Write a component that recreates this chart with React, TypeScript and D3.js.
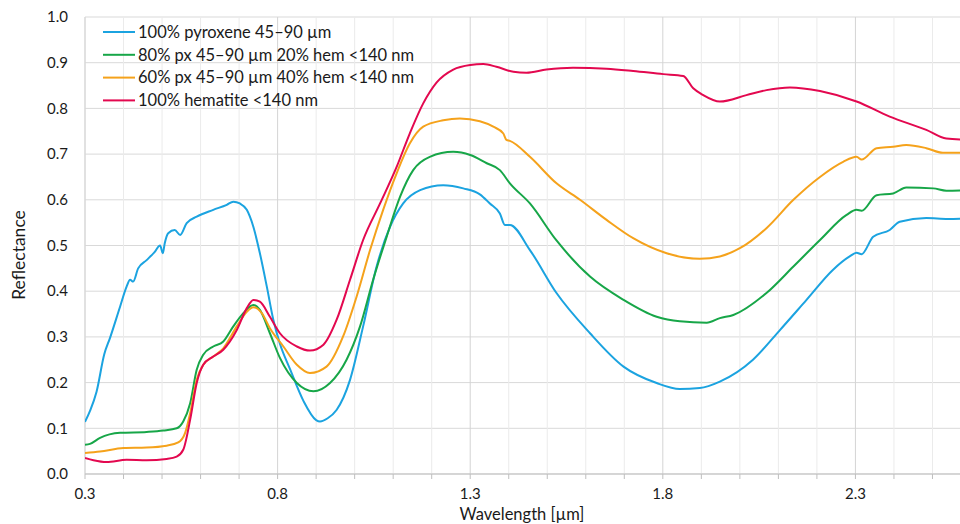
import React from "react";
import * as d3 from "d3";

// ---- data (wavelength µm, reflectance) ----
const pyroxene: [number, number][] = [
  [0.3, 0.114], [0.313, 0.138], [0.33, 0.18], [0.35, 0.262], [0.365, 0.298], [0.391, 0.366],
  [0.408, 0.41], [0.417, 0.425], [0.425, 0.421], [0.438, 0.45], [0.46, 0.468], [0.48, 0.485],
  [0.495, 0.5], [0.502, 0.483], [0.507, 0.505], [0.516, 0.527], [0.533, 0.534], [0.547, 0.523],
  [0.564, 0.549], [0.59, 0.563], [0.633, 0.578], [0.668, 0.589], [0.685, 0.596], [0.702, 0.592],
  [0.72, 0.578], [0.737, 0.541], [0.754, 0.483], [0.772, 0.41], [0.789, 0.337], [0.806, 0.285],
  [0.832, 0.23], [0.867, 0.16], [0.9, 0.118], [0.91, 0.115], [0.93, 0.122], [0.953, 0.14],
  [0.988, 0.206], [1.022, 0.323], [1.057, 0.454], [1.092, 0.541], [1.126, 0.592], [1.17, 0.621],
  [1.23, 0.632], [1.282, 0.625], [1.325, 0.612], [1.351, 0.592], [1.377, 0.57], [1.39, 0.545],
  [1.403, 0.545], [1.455, 0.49], [1.524, 0.396], [1.611, 0.308], [1.698, 0.235], [1.784, 0.199],
  [1.844, 0.186], [1.896, 0.188], [1.948, 0.202], [2.034, 0.25], [2.104, 0.315], [2.173, 0.381],
  [2.242, 0.447], [2.285, 0.476], [2.303, 0.484], [2.316, 0.481], [2.346, 0.519], [2.389, 0.534],
  [2.415, 0.552], [2.484, 0.56], [2.54, 0.558], [2.6, 0.56],
];
const px80hem20: [number, number][] = [
  [0.3, 0.064], [0.313, 0.066], [0.339, 0.079], [0.391, 0.09], [0.46, 0.092], [0.503, 0.095],
  [0.538, 0.1], [0.555, 0.115], [0.573, 0.155], [0.59, 0.228], [0.607, 0.261], [0.633, 0.279],
  [0.659, 0.29], [0.685, 0.323], [0.711, 0.352], [0.737, 0.37], [0.754, 0.359], [0.78, 0.308],
  [0.806, 0.254], [0.85, 0.199], [0.893, 0.181], [0.936, 0.199], [0.979, 0.25], [1.014, 0.323],
  [1.048, 0.425], [1.083, 0.519], [1.118, 0.607], [1.152, 0.665], [1.195, 0.694], [1.256, 0.705],
  [1.3, 0.698], [1.343, 0.68], [1.377, 0.665], [1.403, 0.636], [1.455, 0.592], [1.524, 0.511],
  [1.611, 0.432], [1.698, 0.381], [1.784, 0.344], [1.844, 0.334], [1.914, 0.331], [1.948, 0.341],
  [1.983, 0.348], [2.069, 0.396], [2.139, 0.454], [2.208, 0.512], [2.277, 0.567], [2.303, 0.578],
  [2.316, 0.576], [2.355, 0.61], [2.398, 0.614], [2.432, 0.627], [2.502, 0.625], [2.536, 0.62],
  [2.6, 0.621],
];
const px60hem40: [number, number][] = [
  [0.3, 0.046], [0.339, 0.049], [0.4, 0.057], [0.46, 0.058], [0.512, 0.062], [0.542, 0.069],
  [0.56, 0.09], [0.573, 0.133], [0.59, 0.206], [0.607, 0.239], [0.633, 0.257], [0.659, 0.275],
  [0.694, 0.323], [0.72, 0.355], [0.737, 0.365], [0.759, 0.352], [0.78, 0.319], [0.815, 0.279],
  [0.85, 0.239], [0.884, 0.221], [0.927, 0.235], [0.97, 0.301], [1.005, 0.388], [1.04, 0.49],
  [1.074, 0.578], [1.109, 0.658], [1.143, 0.723], [1.178, 0.76], [1.23, 0.774], [1.273, 0.778],
  [1.325, 0.772], [1.36, 0.76], [1.386, 0.745], [1.394, 0.731], [1.403, 0.729], [1.455, 0.694],
  [1.524, 0.636], [1.585, 0.6], [1.654, 0.556], [1.723, 0.516], [1.81, 0.483], [1.896, 0.471],
  [1.948, 0.476], [2.0, 0.494], [2.069, 0.538], [2.139, 0.6], [2.208, 0.65], [2.268, 0.683],
  [2.303, 0.694], [2.316, 0.688], [2.355, 0.713], [2.398, 0.716], [2.432, 0.72], [2.484, 0.713],
  [2.527, 0.703], [2.6, 0.703],
];
const hematite: [number, number][] = [
  [0.3, 0.035], [0.322, 0.03], [0.356, 0.026], [0.408, 0.031], [0.46, 0.03], [0.512, 0.033],
  [0.538, 0.038], [0.555, 0.053], [0.573, 0.119], [0.59, 0.199], [0.607, 0.239], [0.633, 0.257],
  [0.659, 0.272], [0.694, 0.315], [0.72, 0.363], [0.737, 0.381], [0.754, 0.377], [0.78, 0.344],
  [0.806, 0.308], [0.85, 0.279], [0.884, 0.27], [0.919, 0.283], [0.953, 0.337], [0.988, 0.425],
  [1.022, 0.512], [1.066, 0.592], [1.109, 0.672], [1.143, 0.745], [1.178, 0.811], [1.213, 0.857],
  [1.256, 0.885], [1.3, 0.895], [1.334, 0.897], [1.368, 0.891], [1.412, 0.88], [1.446, 0.878],
  [1.498, 0.885], [1.567, 0.889], [1.654, 0.887], [1.723, 0.882], [1.801, 0.875], [1.853, 0.871],
  [1.879, 0.844], [1.905, 0.829], [1.948, 0.815], [2.017, 0.829], [2.069, 0.84], [2.13, 0.846],
  [2.208, 0.838], [2.303, 0.815], [2.389, 0.782], [2.484, 0.753], [2.536, 0.734], [2.6, 0.731],
];

const seriesNames = [
  "100% pyroxene 45\u201390 \u00b5m",
  "80% px 45\u201390 \u00b5m 20% hem <140 nm",
  "60% px 45\u201390 \u00b5m 40% hem <140 nm",
  "100% hematite <140 nm",
];
const seriesColors = ["#1ba3e0", "#17a648", "#f5a21b", "#e3084f"];
const seriesData = [pyroxene, px80hem20, px60hem40, hematite];

const xLabelTicks = [0.3, 0.8, 1.3, 1.8, 2.3];
const xGridTicks = d3.range(3, 27).map((d) => d / 10);
const yTicks = d3.range(0, 11).map((d) => d / 10);

export default function App() {
  const W = 960, H = 524;
  const left = 85, right = 971, top = 17, bottom = 474;
  const x = d3.scaleLinear().domain([0.3, 2.6]).range([left, right]);
  const y = d3.scaleLinear().domain([0, 1]).range([bottom, top]);
  const line = d3
    .line<[number, number]>()
    .x((d) => x(d[0]))
    .y((d) => y(d[1]))
    .curve(d3.curveMonotoneX);
  const font = "Lato, 'Open Sans', sans-serif";

  return (
    <svg
      width={W}
      height={H}
      style={{ position: "absolute", left: 0, top: 0, background: "#fff" }}
      fontFamily={font}
    >
      <defs>
        <clipPath id="plot">
          <rect x={left} y={top - 2} width={right - left} height={bottom - top + 2} />
        </clipPath>
      </defs>
      {/* horizontal grid */}
      {yTicks.map((t) => (
        <line key={"h" + t} x1={left} x2={W} y1={y(t)} y2={y(t)} stroke="#d9d9d9" strokeWidth={1} />
      ))}
      {/* vertical grid */}
      {xGridTicks.map((t) => {
        const major = xLabelTicks.some((m) => Math.abs(m - t) < 1e-6);
        return (
          <line
            key={"v" + t}
            x1={x(t)}
            x2={x(t)}
            y1={top}
            y2={bottom}
            stroke={major ? "#d4d4d4" : "#ebebeb"}
            strokeWidth={1}
          />
        );
      })}
      {/* left axis line */}
      <line x1={left} x2={left} y1={top} y2={bottom} stroke="#d9d9d9" strokeWidth={1} />
      {/* bottom axis + ticks */}
      <line x1={left} x2={W} y1={bottom} y2={bottom} stroke="#bfbfbf" strokeWidth={1} />
      {xGridTicks.map((t) => (
        <line key={"t" + t} x1={x(t)} x2={x(t)} y1={bottom} y2={bottom + 5} stroke="#bfbfbf" strokeWidth={1} />
      ))}
      {/* tick labels */}
      {xLabelTicks.map((t) => (
        <text key={"xl" + t} x={x(t)} y={499} textAnchor="middle" fontSize={15} fill="#1a1a1a">
          {t.toFixed(1)}
        </text>
      ))}
      {yTicks.map((t) => (
        <text key={"yl" + t} x={68} y={y(t)} dy="0.35em" textAnchor="end" fontSize={15} fill="#1a1a1a">
          {t.toFixed(1)}
        </text>
      ))}
      {/* axis titles */}
      <text x={522} y={519.5} textAnchor="middle" fontSize={16.5} fill="#1a1a1a">
        Wavelength [µm]
      </text>
      <text
        transform={`translate(25,255) rotate(-90)`}
        textAnchor="middle"
        fontSize={17.5}
        fill="#1a1a1a"
      >
        Reflectance
      </text>
      {/* series */}
      <g clipPath="url(#plot)">
        {seriesData.map((s, i) => (
          <path key={i} d={line(s) || ""} fill="none" stroke={seriesColors[i]} strokeWidth={2} strokeLinejoin="round" />
        ))}
      </g>
      {/* legend */}
      {seriesNames.map((n, i) => {
        const ly = 32 + i * 22.8;
        return (
          <g key={"lg" + i}>
            <line x1={103} x2={135} y1={ly} y2={ly} stroke={seriesColors[i]} strokeWidth={2} />
            <text x={138} y={ly} dy="0.35em" fontSize={16.5} fill="#1a1a1a">
              {n}
            </text>
          </g>
        );
      })}
    </svg>
  );
}
